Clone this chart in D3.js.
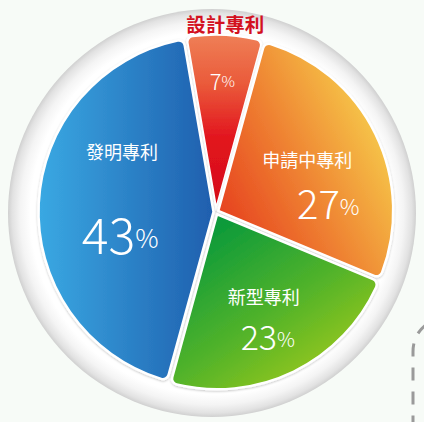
<!DOCTYPE html>
<html><head><meta charset="utf-8">
<script src="https://cdn.jsdelivr.net/npm/d3@7/dist/d3.min.js"></script>
<style>
html,body{margin:0;padding:0;background:#f7fbf7;}
svg{display:block;}
</style></head>
<body><svg id="c" width="424" height="422"></svg>
<script>
// ---- data ----
const categories = ["設計專利", "申請中專利", "新型專利", "發明專利"];
const values = [7, 27, 23, 43];
const valueLabels = ["7", "27", "23", "43"];

// ---- styling ----
const W = 424, H = 422;
const cx = 216, cy = 212;
const R = 175;
const explode = 2.5;
const startDeg = -9.8;
const svg = d3.select("#c");
const defs = svg.append("defs");

// background ring gradient
const rg = defs.append("radialGradient").attr("id","ring").attr("cx","50%").attr("cy","50%").attr("r","50%");
[[0,"#ffffff"],[0.89,"#ffffff"],[0.94,"#f4f4f4"],[0.98,"#e2e2e2"],[1,"#d0d0d0"]].forEach(s=>rg.append("stop").attr("offset",s[0]).attr("stop-color",s[1]));

// gradient coords given in page space, converted to the pie group's local space
function lin(id, x1,y1,x2,y2, stops){
  const g = defs.append("linearGradient").attr("id",id).attr("gradientUnits","userSpaceOnUse")
    .attr("x1",x1-cx).attr("y1",y1-cy).attr("x2",x2-cx).attr("y2",y2-cy);
  stops.forEach(s=>g.append("stop").attr("offset",s[0]).attr("stop-color",s[1]));
}
lin("gRed", 0,36, 0,205, [[0,"#ef8057"],[0.3,"#ea5a3a"],[0.62,"#e2141e"],[1,"#d60d18"]]);
lin("gOrange", 225,235, 392,150, [[0,"#e6401f"],[0.45,"#ee7c30"],[1,"#f6c94a"]]);
lin("gGreen", 215,225, 330,395, [[0,"#0c9a3a"],[0.5,"#52b32a"],[1,"#abcd18"]]);
lin("gBlue", 40,0, 215,0, [[0,"#3aa9e3"],[1,"#1f5fae"]]);
const fills = ["url(#gRed)","url(#gOrange)","url(#gGreen)","url(#gBlue)"];

// soft shadow
const f = defs.append("filter").attr("id","sh").attr("x","-10%").attr("y","-10%").attr("width","120%").attr("height","120%");
f.append("feDropShadow").attr("dx",0).attr("dy",1).attr("stdDeviation",1.2).attr("flood-color","#000").attr("flood-opacity",0.22);

// background circle
svg.append("circle").attr("cx",212).attr("cy",213).attr("r",204).attr("fill","url(#ring)");

// dashed decoration
svg.append("path").attr("d","M 427 324 Q 413 334 413 352 L 413 430")
  .attr("fill","none").attr("stroke","#9a9a9a").attr("stroke-width",3).attr("stroke-dasharray","13,11");

const pie = d3.pie().sort(null).value(d=>d)
  .startAngle(startDeg*Math.PI/180).endAngle(startDeg*Math.PI/180 + 2*Math.PI);
const arcs = pie(values);
const arc = d3.arc().innerRadius(0).outerRadius(R).cornerRadius(6);

const g = svg.append("g").attr("transform",`translate(${cx},${cy})`);
const slices = g.selectAll("g.s").data(arcs).join("g").attr("class","s")
  .attr("transform", d=>{
    const a=(d.startAngle+d.endAngle)/2;
    return `translate(${Math.sin(a)*explode},${-Math.cos(a)*explode})`;
  });
slices.append("path").attr("d",arc).attr("fill",(d,i)=>fills[i])
  .attr("stroke","#ffffff").attr("stroke-width",2.5).attr("stroke-linejoin","round")
  .attr("filter","url(#sh)");

// labels: radius along mid angle, then offsets for name and value
const labelCfg = [
  {r:132, nameOut:true, nameR:190, num:22, pct:15},
  {r:106, ndx:-4, ndy:-7, vdx:17, vdy:36, num:40, pct:22},
  {r:100, ndx:4, ndy:-6, vdx:8, vdy:33, num:34, pct:20},
  {r:94, ndx:0, ndy:-56, vdx:-2, vdy:25, num:50, pct:26}
];
const nameFont = "'Noto Sans CJK TC','Noto Sans CJK SC',sans-serif";
arcs.forEach((d,i)=>{
  const a=(d.startAngle+d.endAngle)/2;
  const c=labelCfg[i];
  const px = cx + Math.sin(a)*c.r, py = cy - Math.cos(a)*c.r;
  if(c.nameOut){
    svg.append("text").attr("x",cx+Math.sin(a)*c.nameR).attr("y",cy-Math.cos(a)*c.nameR+1)
      .attr("text-anchor","middle").attr("dominant-baseline","central")
      .attr("font-family",nameFont).attr("font-weight",700).attr("font-size",19.5)
      .attr("fill","#d3111f").text(categories[i]);
    const t=svg.append("text").attr("x",px).attr("y",py).attr("text-anchor","middle")
      .attr("dominant-baseline","central").attr("fill","#ffffff").attr("font-family",nameFont).attr("font-weight",300);
    t.append("tspan").attr("font-size",c.num).text(valueLabels[i]);
    t.append("tspan").attr("font-size",c.pct).text("%");
  } else {
    svg.append("text").attr("x",px+c.ndx).attr("y",py+c.ndy)
      .attr("text-anchor","middle").attr("dominant-baseline","central")
      .attr("font-family",nameFont).attr("font-weight",400).attr("font-size",18)
      .attr("fill","#ffffff").text(categories[i]);
    const t=svg.append("text").attr("x",px+c.vdx).attr("y",py+c.vdy).attr("text-anchor","middle")
      .attr("dominant-baseline","central").attr("fill","#ffffff").attr("font-family",nameFont).attr("font-weight",300);
    t.append("tspan").attr("font-size",c.num).text(valueLabels[i]);
    t.append("tspan").attr("font-size",c.pct).attr("dy",c.num*0.08).text("%");
  }
});
</script></body></html>
